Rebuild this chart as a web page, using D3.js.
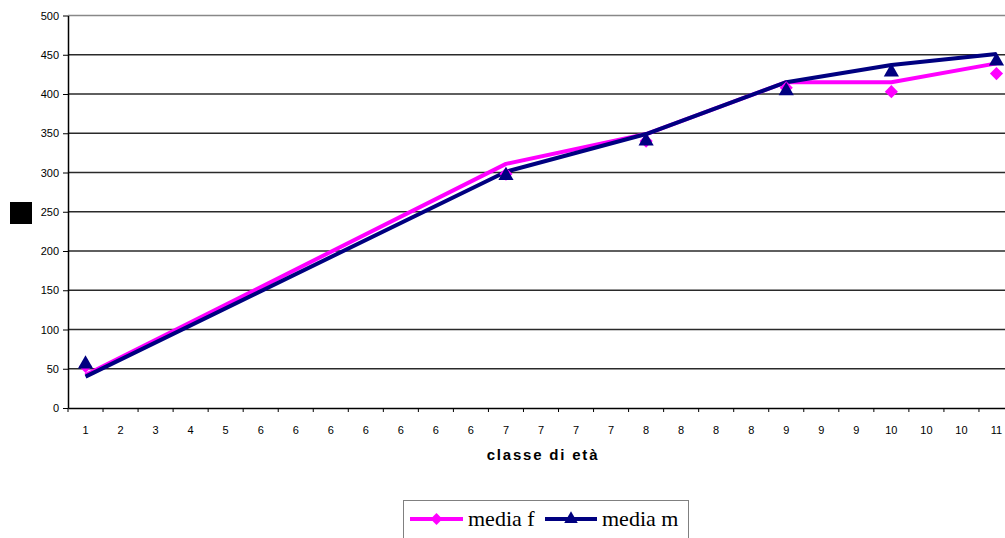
<!DOCTYPE html>
<html>
<head>
<meta charset="utf-8">
<script src="https://cdn.jsdelivr.net/npm/d3@7"></script>
<style>
body{margin:0;background:#fff;}
svg{display:block;}
</style>
</head>
<body>
<svg id="chart" width="1005" height="538"></svg>
<script>
const categories = ["1","2","3","4","5","6","6","6","6","6","6","6","7","7","7","7","8","8","8","8","9","9","9","10","10","10","11"];
const yTicks = [0,50,100,150,200,250,300,350,400,450,500];
// line vertices
const lineF = [42,null,null,null,null,null,null,null,null,null,null,null,311,null,null,null,349,null,null,null,415,null,null,415,null,null,439];
const lineM = [40,null,null,null,null,null,null,null,null,null,null,null,301,null,null,null,349,null,null,null,415,null,null,437,null,null,451];
// marker positions
const markF = [53,null,null,null,null,null,null,null,null,null,null,null,298,null,null,null,340,null,null,null,408,null,null,403,null,null,426];
const markM = [56,null,null,null,null,null,null,null,null,null,null,null,296,null,null,null,340,null,null,null,404,null,null,428,null,null,442];
const seriesNames = ["media f","media m"];
const colors = ["#FF00FF","#000080"];

(function(){
const svg = d3.select("#chart");
const pl = 68, pr = 1014, pt = 15.5, pb = 408, visR = 1005;
const x = d3.scaleBand().domain(d3.range(categories.length)).range([pl, pr]).padding(0);
const y = d3.scaleLinear().domain([0,500]).range([pb, pt]);
const cx = i => x(i) + x.bandwidth()/2;

// gridlines
svg.append("g").selectAll("line").data(yTicks.filter(d=>d>0)).join("line")
  .attr("x1", pl).attr("x2", visR)
  .attr("y1", d=>y(d)).attr("y2", d=>y(d))
  .attr("stroke", d=> d===500 ? "#888" : "#2a2a2a").attr("stroke-width", 1.3);

// y axis
const yAxis = d3.axisLeft(y).tickValues(yTicks).tickSize(5).tickSizeOuter(0);
const gy = svg.append("g").attr("transform", `translate(${pl},0)`).call(yAxis);
gy.select(".domain").attr("stroke","#000").attr("stroke-width",1.5);
gy.selectAll(".tick line").attr("stroke","#000");
gy.selectAll(".tick text").attr("font-family","'Liberation Sans', Arial, sans-serif").attr("font-size","11px").attr("fill","#000").attr("x",-9);

// x axis
const gx = svg.append("g").attr("transform", `translate(0,${pb})`)
  .call(d3.axisBottom(x).tickFormat(i=>categories[i]).tickSize(0).tickSizeOuter(0));
gx.select(".domain").attr("stroke","#000").attr("stroke-width",1.5);
gx.selectAll(".tick text").attr("font-family","'Liberation Sans', Arial, sans-serif").attr("font-size","11px").attr("fill","#000").attr("dy","2.1em");
svg.append("g").selectAll("line").data(d3.range(categories.length+1)).join("line")
  .attr("x1", i => pl + i*x.bandwidth()).attr("x2", i => pl + i*x.bandwidth())
  .attr("y1", pb).attr("y2", pb+4).attr("stroke","#000");

// x title
svg.append("text").attr("x", 543).attr("y", 460).attr("text-anchor","middle")
  .attr("font-family","'Liberation Sans', Arial, sans-serif").attr("font-weight","bold")
  .attr("font-size","15px").attr("letter-spacing","1.8px").text("classe di età");

// black square
svg.append("rect").attr("x",10).attr("y",202).attr("width",22).attr("height",22).attr("fill","#000");

// lines
const lineGen = d3.line().x(d=>cx(d.i)).y(d=>y(d.v));
[lineF, lineM].forEach((arr, k) => {
  const pts = arr.map((v,i)=>({i,v})).filter(d=>d.v!==null);
  svg.append("path").datum(pts).attr("d", lineGen).attr("fill","none")
    .attr("stroke", colors[k]).attr("stroke-width", 4).attr("stroke-linejoin","round");
});

// markers
const diamond = d3.symbol().type(d3.symbolDiamond2).size(110);
const triangle = d3.symbol().type(d3.symbolTriangle).size(100);
svg.append("g").selectAll("path").data(markF.map((v,i)=>({i,v})).filter(d=>d.v!==null)).join("path")
  .attr("d", diamond).attr("transform", d=>`translate(${cx(d.i)},${y(d.v)})`).attr("fill", colors[0]);
svg.append("g").selectAll("path").data(markM.map((v,i)=>({i,v})).filter(d=>d.v!==null)).join("path")
  .attr("d", triangle).attr("transform", d=>`translate(${cx(d.i)},${y(d.v)})`).attr("fill", colors[1]);

// legend
const lg = svg.append("g");
lg.append("rect").attr("x",403.5).attr("y",500.5).attr("width",285).attr("height",45)
  .attr("fill","#fff").attr("stroke","#808080");
const legItems = [{x1:410,x2:463,tx:468},{x1:545,x2:597,tx:602}];
legItems.forEach((it,k)=>{
  lg.append("line").attr("x1",it.x1).attr("x2",it.x2).attr("y1",519).attr("y2",519)
    .attr("stroke",colors[k]).attr("stroke-width",4);
  lg.append("path").attr("d", k===0 ? d3.symbol().type(d3.symbolDiamond2).size(90)() : d3.symbol().type(d3.symbolTriangle).size(80)())
    .attr("transform",`translate(${(it.x1+it.x2)/2},519)`).attr("fill",colors[k]);
  lg.append("text").attr("x",it.tx).attr("y",526).attr("font-family","'Liberation Serif', 'Times New Roman', serif")
    .attr("font-size","22px").attr("fill","#000").text(seriesNames[k]);
});
})();
</script>
</body>
</html>
